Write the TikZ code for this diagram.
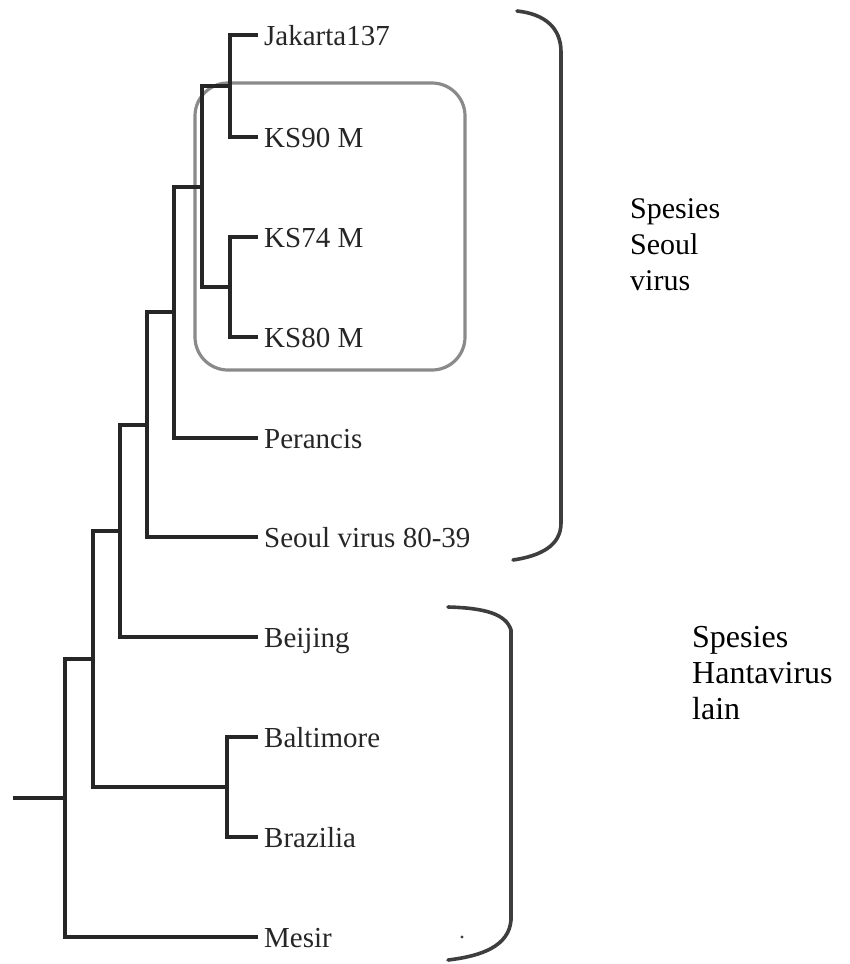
\documentclass[tikz,border=0pt]{standalone}
\usepackage{fontspec}
\setmainfont{Liberation Serif}
\begin{document}
\begin{tikzpicture}[x=1pt,y=-1pt,
  branch/.style={draw=treeclr,line width=3.4pt,line cap=rect},
  leaf/.style={anchor=west,inner xsep=8pt,inner ysep=0pt,text height=20pt,text depth=0pt,
    font=\fontsize{29}{34}\selectfont,text=labelclr},
  bracketline/.style={draw=brkclr,line width=3.6pt,line cap=round},
  clade/.style={draw=boxclr,line width=3.2pt,rounded corners=33pt},
  species/.style={anchor=base west,align=left,inner sep=0pt,text=black}]
\definecolor{treeclr}{HTML}{262626}
\definecolor{labelclr}{HTML}{262626}
\definecolor{brkclr}{HTML}{3E3E3E}
\definecolor{boxclr}{HTML}{8A8A8A}
\useasboundingbox (0,0) rectangle (849,964);
% leaves
\node[leaf] (jak) at (256,35) {Jakarta137};
\node[leaf] (ks90) at (256,137) {KS90 M};
\node[leaf] (ks74) at (256,237) {KS74 M};
\node[leaf] (ks80) at (256,337) {KS80 M};
\node[leaf] (per) at (256,438) {Perancis};
\node[leaf] (seo) at (256,537) {Seoul virus 80-39};
\node[leaf] (bei) at (256,637) {Beijing};
\node[leaf] (bal) at (256,737) {Baltimore};
\node[leaf] (bra) at (256,837) {Brazilia};
\node[leaf] (mes) at (256,937) {Mesir};
% internal nodes
\coordinate (A) at (230,86);
\coordinate (B) at (230,287);
\coordinate (C) at (202,187);
\coordinate (D) at (174,312);
\coordinate (E) at (147,425);
\coordinate (F) at (120,531);
\coordinate (G) at (227,787);
\coordinate (H) at (93,659);
\coordinate (R) at (65,798);
\coordinate (stub) at (15,798);
% clade box
\draw[clade] (195,83) rectangle (465,370);
% branches
\draw[branch] (jak.west) -| (A) |- (ks90.west);
\draw[branch] (ks74.west) -| (B) |- (ks80.west);
\draw[branch] (A) -| (C) |- (B);
\draw[branch] (C) -| (D) |- (per.west);
\draw[branch] (D) -| (E) |- (seo.west);
\draw[branch] (E) -| (F) |- (bei.west);
\draw[branch] (bal.west) -| (G) |- (bra.west);
\draw[branch] (F) -| (H) |- (G);
\draw[branch] (H) -| (R) |- (mes.west);
\draw[branch] (stub) -- (R);
% brackets
\draw[bracketline] (517,11) .. controls (545,14) and (561,28) .. (561,52) -- (561,523)
  .. controls (561,546) and (540,556) .. (513,560);
\draw[bracketline] (448,607) .. controls (485,608) and (506,614) .. (511,630) -- (511,920)
  .. controls (509,946) and (482,956) .. (448,960);
\fill[brkclr] (462,937) circle (1.6pt);
% species labels (anchor on last line baseline)
\node[species,font=\fontsize{30}{36}\selectfont] (sp1) at (630,290) {Spesies\\Seoul\\virus};
\node[species,font=\fontsize{32}{36}\selectfont] (sp2) at (692,719) {Spesies\\Hantavirus\\lain};
\end{tikzpicture}
\end{document}
